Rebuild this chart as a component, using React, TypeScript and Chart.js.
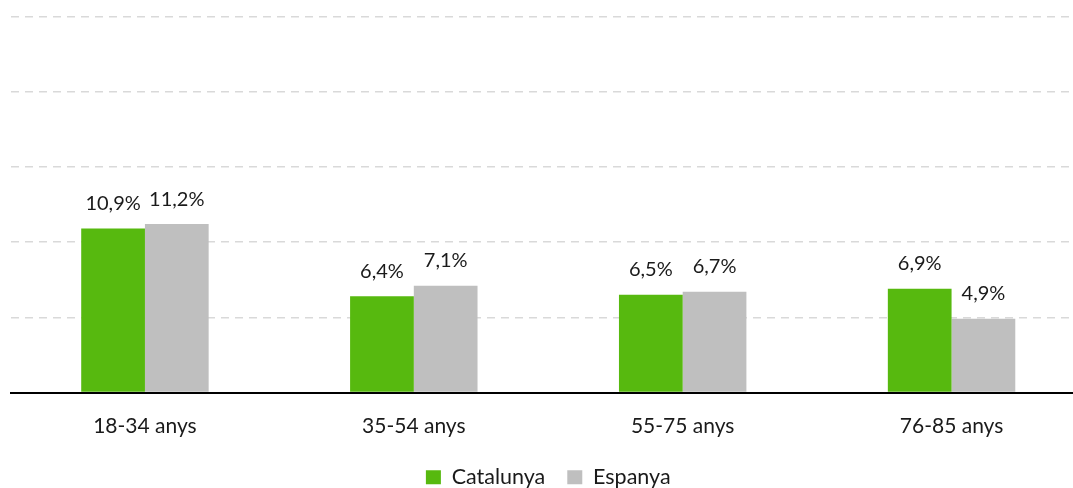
import React, { useEffect, useRef } from "react";
import { Chart, registerables } from "chart.js";

Chart.register(...registerables);

const categories = ["18-34 anys", "35-54 anys", "55-75 anys", "76-85 anys"];
const catalunya = [10.9, 6.4, 6.5, 6.9];
const espanya = [11.2, 7.1, 6.7, 4.9];
const seriesNames = ["Catalunya", "Espanya"];

const FONT = "Lato, 'Open Sans', sans-serif";

const valueLabels = {
  id: "valueLabels",
  afterDatasetsDraw(chart: any) {
    const ctx = chart.ctx;
    ctx.save();
    ctx.font = `20px ${FONT}`;
    ctx.fillStyle = "#1a1a1a";
    ctx.textAlign = "center";
    ctx.textBaseline = "middle";
    chart.data.datasets.forEach((ds: any, di: number) => {
      const meta = chart.getDatasetMeta(di);
      meta.data.forEach((bar: any, i: number) => {
        const v = ds.data[i] as number;
        const txt = v.toFixed(1).replace(".", ",") + "%";
        ctx.fillText(txt, bar.x, bar.y - 25);
      });
    });
    ctx.restore();
  },
};

export default function App() {
  const ref = useRef<HTMLCanvasElement | null>(null);
  useEffect(() => {
    if (!ref.current) return;
    const chart = new Chart(ref.current, {
      type: "bar",
      data: {
        labels: categories,
        datasets: [
          {
            label: seriesNames[0],
            data: catalunya,
            backgroundColor: "#57b90f",
            categoryPercentage: 0.474,
            barPercentage: 1,
          },
          {
            label: seriesNames[1],
            data: espanya,
            backgroundColor: "#bfbfbf",
            categoryPercentage: 0.474,
            barPercentage: 1,
          },
        ],
      },
      options: {
        responsive: false,
        animation: false,
        layout: { padding: { left: 10.5, right: 22, top: 16.5, bottom: -10 } },
        plugins: {
          legend: {
            position: "bottom",
            labels: {
              font: { family: FONT, size: 21.5 },
              color: "#1a1a1a",
              boxWidth: 15,
              boxHeight: 14,
              padding: 22,
            },
          },
          tooltip: { enabled: false },
        },
        scales: {
          x: {
            grid: { display: false, drawTicks: false },
            border: { display: true, color: "#000", width: 2 },
            ticks: {
              font: { family: FONT, size: 21 },
              color: "#1a1a1a",
              padding: 21,
            },
            afterFit(scale: any) {
              scale.height = 52;
            },
          },
          y: {
            min: 0,
            max: 25,
            ticks: { display: false, stepSize: 5 },
            grid: { color: "#d9d9d9", lineWidth: 1.5, drawTicks: false },
            border: { display: false, dash: [8, 6] },
          },
        },
      },
      plugins: [valueLabels],
    });
    return () => chart.destroy();
  }, []);
  return (
    <div
      style={{
        position: "fixed",
        left: 0,
        top: 0,
        width: 1073,
        height: 488,
        overflow: "hidden",
        background: "#fff",
      }}
    >
      <canvas ref={ref} width={1108} height={488} style={{ display: "block" }} />
    </div>
  );
}
